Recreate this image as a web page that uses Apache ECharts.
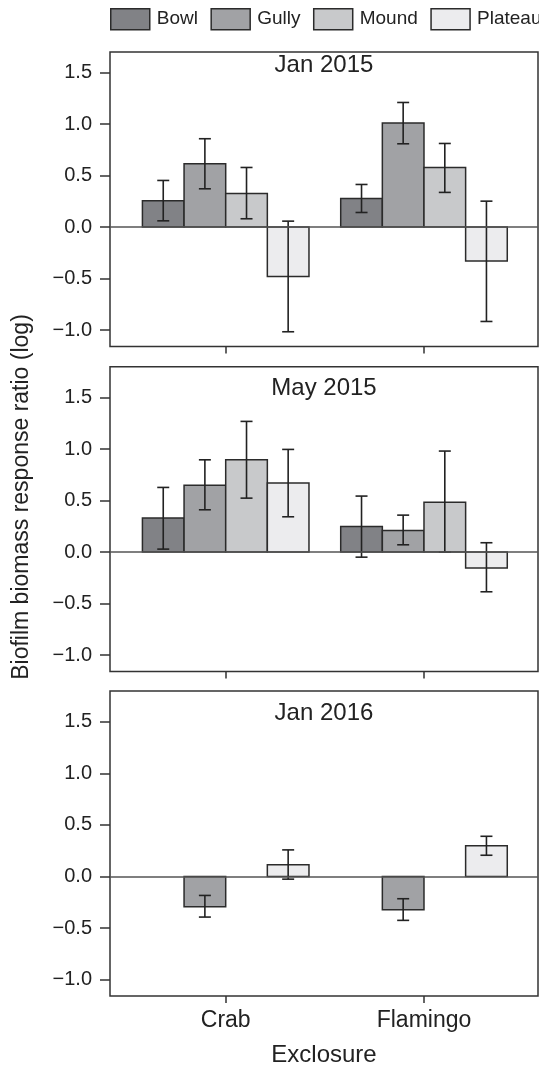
<!DOCTYPE html>
<html><head><meta charset="utf-8">
<script src="https://cdn.jsdelivr.net/npm/echarts@6/dist/echarts.min.js"></script>
<style>html,body{margin:0;padding:0;background:#fff}#c{width:539px;height:1069px}</style>
</head><body><div id="c"></div>
<script>
// ---- data ----
const categories = ['Crab', 'Flamingo'];
const sites = ['Bowl', 'Gully', 'Mound', 'Plateau'];
const panelTitles = ['Jan 2015', 'May 2015', 'Jan 2016'];
const yTicks = [-1, -0.5, 0, 0.5, 1, 1.5];
// rows: Bowl, Gully, Mound, Plateau ; columns: Crab, Flamingo
const jan2015Mean  = [[0.256, 0.278], [0.615, 1.010], [0.327, 0.579], [-0.479, -0.330]];
const jan2015Upper = [[0.453, 0.414], [0.858, 1.210], [0.579, 0.812], [0.058, 0.252]];
const jan2015Lower = [[0.061, 0.142], [0.372, 0.809], [0.081, 0.337], [-1.016, -0.916]];
const may2015Mean  = [[0.330, 0.249], [0.650, 0.210], [0.896, 0.485], [0.670, -0.155]];
const may2015Upper = [[0.628, 0.544], [0.896, 0.359], [1.269, 0.981], [0.997, 0.091]];
const may2015Lower = [[0.029, -0.049], [0.411, 0.071], [0.524, 0.000], [0.343, -0.385]];
const jan2016Mean  = [[null, null], [-0.294, -0.323], [null, null], [0.113, 0.297]];
const jan2016Upper = [[null, null], [-0.184, -0.216], [null, null], [0.258, 0.390]];
const jan2016Lower = [[null, null], [-0.394, -0.426], [null, null], [-0.026, 0.206]];

// ---- styling / layout ----
const FONT = 'Liberation Sans, Arial, sans-serif';
const siteColors = ['#818286', '#a1a2a5', '#c8c9cb', '#ececee'];
const barUnits = 0.21;
const panels = [
  {mean: jan2015Mean, upper: jan2015Upper, lower: jan2015Lower, top: 52, height: 294.6, max: 1.7, titleY: 65},
  {mean: may2015Mean, upper: may2015Upper, lower: may2015Lower, top: 366.7, height: 304.9, max: 1.8, titleY: 388.5},
  {mean: jan2016Mean, upper: jan2016Upper, lower: jan2016Lower, top: 691, height: 305, max: 1.8, titleY: 713.5}
];

const fmt = v => (v < 0 ? '\u2212' + Math.abs(v).toFixed(1) : v.toFixed(1));

const grid = [], xAxis = [], yAxis = [], series = [], graphic = [];
panels.forEach((p, pi) => {
  grid.push({left: 110, width: 428, top: p.top, height: p.height, show: true,
    borderColor: '#333', borderWidth: 1.5, backgroundColor: 'transparent'});
  const last = pi === panels.length - 1;
  xAxis.push({
    type: 'value', gridIndex: pi, min: -0.5835, max: 1.575, position: 'bottom',
    axisLine: {show: false, onZero: false}, splitLine: {show: false},
    axisTick: {show: true, customValues: [0, 1], length: 7, lineStyle: {color: '#333', width: 1.5}},
    axisLabel: {show: last, customValues: [0, 1], formatter: v => categories[Math.round(v)],
      fontSize: 23, color: '#222', fontFamily: FONT, margin: 13},
    name: last ? 'Exclosure' : '', nameLocation: 'middle', nameGap: 47,
    nameTextStyle: {fontSize: 24, color: '#222', fontFamily: FONT}
  });
  yAxis.push({
    type: 'value', gridIndex: pi, min: -1.16, max: p.max, position: 'left',
    axisLine: {show: false, onZero: false}, splitLine: {show: false},
    axisTick: {show: true, customValues: yTicks, length: 10, lineStyle: {color: '#333', width: 1.5}},
    axisLabel: {customValues: yTicks, formatter: fmt, fontSize: 20, color: '#222', fontFamily: FONT, margin: 18}
  });
  // zero line
  series.push({type: 'line', xAxisIndex: pi, yAxisIndex: pi, data: [], silent: true,
    markLine: {silent: true, symbol: 'none', label: {show: false}, animation: false,
      lineStyle: {color: '#555', width: 1.5, type: 'solid'}, data: [{yAxis: 0}]}});
  sites.forEach((s, si) => {
    const data = [];
    categories.forEach((c, ci) => {
      const m = p.mean[si][ci];
      if (m === null) return;
      data.push([ci, m, p.lower[si][ci], p.upper[si][ci]]);
    });
    series.push({
      type: 'custom', name: s, xAxisIndex: pi, yAxisIndex: pi,
      itemStyle: {color: siteColors[si], borderColor: '#2b2b2b', borderWidth: 1.5},
      encode: {x: 0, y: [1, 2, 3]},
      data: data,
      renderItem: (params, api) => {
        const xc = api.value(0) + (si - 1.5) * barUnits;
        const m = api.value(1), lo = api.value(2), hi = api.value(3);
        const a = api.coord([xc - barUnits / 2, m]);
        const b = api.coord([xc + barUnits / 2, 0]);
        const pLo = api.coord([xc, lo]);
        const pHi = api.coord([xc, hi]);
        const cap = 6;
        const ls = {stroke: '#222', lineWidth: 1.6};
        return {type: 'group', children: [
          {type: 'rect', shape: {x: a[0], y: Math.min(a[1], b[1]), width: b[0] - a[0], height: Math.abs(b[1] - a[1])},
            style: {fill: siteColors[si], stroke: '#2b2b2b', lineWidth: 1.5}},
          {type: 'line', shape: {x1: pLo[0], y1: pLo[1], x2: pHi[0], y2: pHi[1]}, style: ls},
          {type: 'line', shape: {x1: pLo[0] - cap, y1: pLo[1], x2: pLo[0] + cap, y2: pLo[1]}, style: ls},
          {type: 'line', shape: {x1: pHi[0] - cap, y1: pHi[1], x2: pHi[0] + cap, y2: pHi[1]}, style: ls}
        ]};
      }
    });
  });
  graphic.push({type: 'text', x: 324, y: p.titleY, silent: true,
    style: {text: panelTitles[pi], textAlign: 'center', textVerticalAlign: 'middle',
      fontSize: 24, fill: '#222', fontFamily: FONT}});
});
graphic.push({type: 'text', x: 22, y: 497, rotation: Math.PI / 2, silent: true,
  style: {text: 'Biofilm biomass response ratio (log)', textAlign: 'center', textVerticalAlign: 'middle',
    fontSize: 23, fill: '#222', fontFamily: FONT}});

const chart = echarts.init(document.getElementById('c'), null, {renderer: 'canvas'});
chart.setOption({
  animation: false,
  backgroundColor: '#fff',
  legend: {
    left: 110, top: 8, width: 480, itemWidth: 39, itemHeight: 21, itemGap: 12.5, padding: 0,
    textStyle: {fontSize: 19, color: '#222', fontFamily: FONT, padding: [0, 0, 0, 2]},
    data: sites.map((s, i) => ({name: s, icon: 'rect',
      itemStyle: {color: siteColors[i], borderColor: '#2b2b2b', borderWidth: 1.5}}))
  },
  grid, xAxis, yAxis, series, graphic
});
</script></body></html>
